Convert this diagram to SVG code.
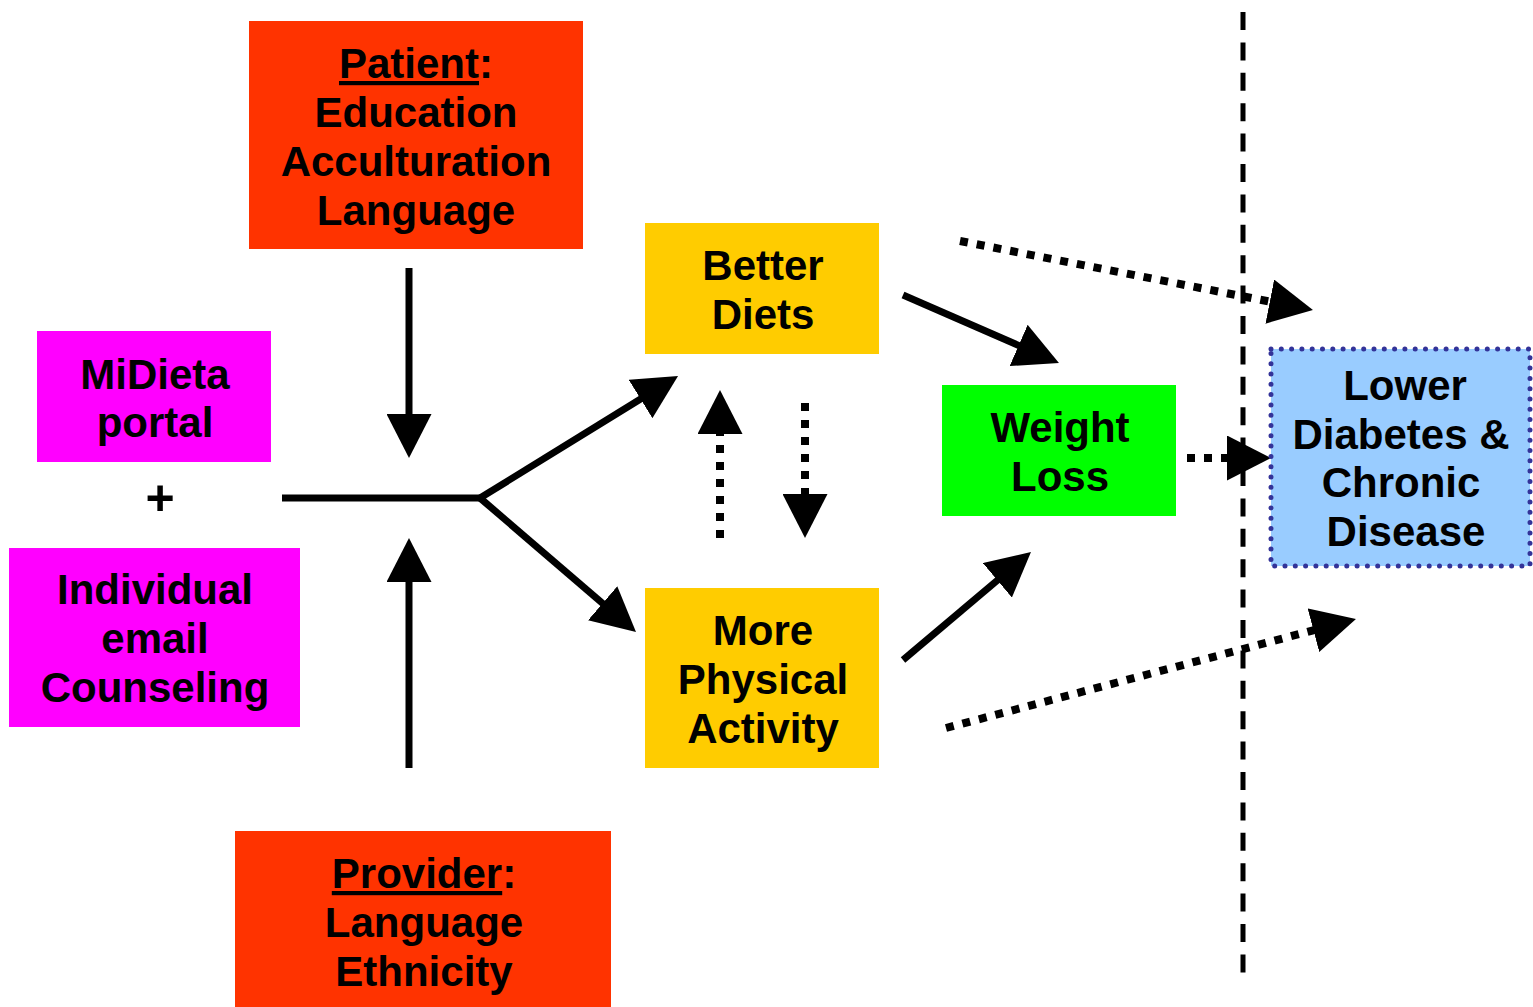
<svg xmlns="http://www.w3.org/2000/svg" width="1533" height="1007" viewBox="0 0 1533 1007">
<style>
text{font-family:"Liberation Sans",Arial,sans-serif;font-weight:bold;font-size:42px;fill:#000;text-anchor:middle}
.red{fill:#FF3300}
.mag{fill:#FF00FF}
.yel{fill:#FFCC00}
.grn{fill:#00FF00}
.line{stroke:#000;stroke-width:7;fill:none}
.dot{stroke:#000;stroke-width:8;fill:none;stroke-dasharray:8 9}
</style>
<defs>
<marker id="ah" markerUnits="userSpaceOnUse" viewBox="0 0 44 45" markerWidth="44" markerHeight="45" refX="10" refY="22.5" orient="auto">
<path d="M0,0 L44,22.5 L0,45 z" fill="#000"/>
</marker>
</defs>
<rect width="1533" height="1007" fill="#fff"/>

<g id="connectors">
<line x1="1243" y1="12" x2="1243" y2="975" stroke="#000" stroke-width="5" stroke-dasharray="18 12.4"/>
<line class="line" x1="409" y1="268" x2="409" y2="424" marker-end="url(#ah)"/>
<line class="line" x1="409" y1="768" x2="409" y2="572" marker-end="url(#ah)"/>
<polyline class="line" points="282,498 480,498"/>
<line class="line" x1="480" y1="498" x2="649.1" y2="393.8" marker-end="url(#ah)"/>
<line class="line" x1="480" y1="498" x2="610.2" y2="609.8" marker-end="url(#ah)"/>
<line class="dot" x1="720" y1="538" x2="720" y2="424" marker-end="url(#ah)"/>
<line class="dot" x1="805" y1="403" x2="805" y2="504" marker-end="url(#ah)"/>
<line class="line" x1="903" y1="295" x2="1027.8" y2="349.4" marker-end="url(#ah)"/>
<line class="line" x1="903" y1="660" x2="1005" y2="573.9" marker-end="url(#ah)"/>
<line class="dot" x1="960" y1="241" x2="1279.6" y2="303.5" marker-end="url(#ah)"/>
<line class="dot" x1="1187" y1="458" x2="1237" y2="458" marker-end="url(#ah)"/>
<line class="dot" x1="946" y1="728" x2="1323.1" y2="627.7" marker-end="url(#ah)"/>
</g>

<g id="patient">
<rect class="red" x="249" y="21" width="334" height="228"/>
<text x="416" y="78"><tspan text-decoration="underline">Patient</tspan>:</text>
<text x="416" y="127">Education</text>
<text x="416" y="176">Acculturation</text>
<text x="416" y="225">Language</text>
</g>

<g id="midieta">
<rect class="mag" x="37" y="331" width="234" height="131"/>
<text x="155" y="389">MiDieta</text>
<text x="155" y="437">portal</text>
</g>

<g id="plus">
<text x="160" y="515" style="font-size:50px">+</text>
</g>

<g id="individual">
<rect class="mag" x="9" y="548" width="291" height="179"/>
<text x="155" y="604">Individual</text>
<text x="155" y="653">email</text>
<text x="155" y="702">Counseling</text>
</g>

<g id="provider">
<rect class="red" x="235" y="831" width="376" height="180"/>
<text x="424" y="888"><tspan text-decoration="underline">Provider</tspan>:</text>
<text x="424" y="937">Language</text>
<text x="424" y="986">Ethnicity</text>
</g>

<g id="better-diets">
<rect class="yel" x="645" y="223" width="234" height="131"/>
<text x="763" y="280">Better</text>
<text x="763" y="329">Diets</text>
</g>

<g id="physical-activity">
<rect class="yel" x="645" y="588" width="234" height="180"/>
<text x="763" y="645">More</text>
<text x="763" y="694">Physical</text>
<text x="763" y="743">Activity</text>
</g>

<g id="weight-loss">
<rect class="grn" x="942" y="385" width="234" height="131"/>
<text x="1060" y="442">Weight</text>
<text x="1060" y="491">Loss</text>
</g>

<g id="lower-diabetes">
<rect x="1271" y="349" width="259" height="217" fill="#99CCFF" stroke="#333399" stroke-width="5" stroke-linecap="round" stroke-dasharray="0 10.3"/>
<text x="1405" y="400">Lower</text>
<text x="1401" y="449">Diabetes &amp;</text>
<text x="1401" y="497">Chronic</text>
<text x="1406" y="546">Disease</text>
</g>
</svg>
